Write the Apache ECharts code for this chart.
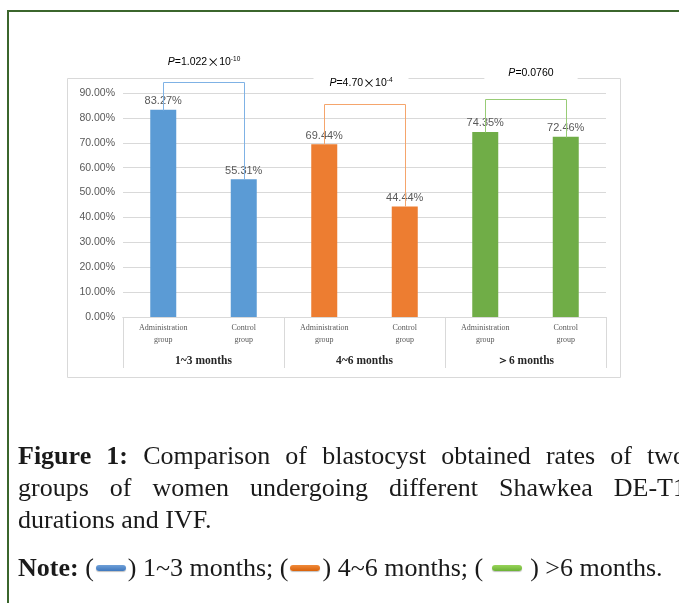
<!DOCTYPE html>
<html>
<head>
<meta charset="utf-8">
<script src="https://cdn.jsdelivr.net/npm/echarts@6/dist/echarts.min.js"></script>
<style>
  html, body { margin:0; padding:0; width:679px; height:603px; overflow:hidden; background:#fff; }
  #chart { position:absolute; left:0; top:0; width:679px; height:603px; }
  .frameTop { position:absolute; left:7px; top:10px; width:700px; height:2px; background:#3b662c; }
  .frameLeft { position:absolute; left:7px; top:10px; width:2px; height:600px; background:#3b662c; }
  .cap { position:absolute; left:18px; width:668px; font-family:"Liberation Serif", serif; font-size:26px; line-height:32px; color:#1a1a1a; white-space:nowrap; }
  .just { text-align:justify; text-align-last:justify; white-space:normal; }
  .icon { display:inline-block; width:30px; height:6px; border-radius:3px; vertical-align:middle; margin:0 2px; position:relative; top:-2px; box-shadow:0 1px 1px rgba(0,0,0,0.25); }
</style>
</head>
<body>
<div id="chart"></div>
<div class="frameTop"></div>
<div class="frameLeft"></div>
<div class="cap just" style="top:440px;"><b>Figure 1:</b> Comparison of blastocyst obtained rates of two</div>
<div class="cap just" style="top:472px;">groups of women undergoing different Shawkea DE-T1</div>
<div class="cap" style="top:504px;">durations and IVF.</div>
<div class="cap" style="top:552px;"><b>Note:</b> (<span class="icon" style="background:linear-gradient(#6fa0d8,#3f78be);"></span>) 1~3 months; (<span class="icon" style="background:linear-gradient(#f08a3a,#d9620a);"></span>) 4~6 months; ( <span class="icon" style="background:linear-gradient(#98d45a,#6cb235);"></span> ) &gt;6 months.</div>
<script>
// ---- data ----
const categories = ['Administration\ngroup', 'Control\ngroup', 'Administration\ngroup', 'Control\ngroup', 'Administration\ngroup', 'Control\ngroup'];
const groups = ['1~3 months', '4~6 months', '＞6 months'];
const values = [83.27, 55.31, 69.44, 44.44, 74.35, 72.46];
const groupOfBar = [0, 0, 1, 1, 2, 2];
const yTicks = [0, 10, 20, 30, 40, 50, 60, 70, 80, 90];
const bracketPairs = [[0, 1], [2, 3], [4, 5]];
const pMantissa = ['1.022', '4.70', '0.0760'];
const pExponent = ['-10', '-4', ''];

// ---- styles ----
const groupColors = ['#5b9bd5', '#ed7d31', '#70ad47'];
const bracketColors = ['#7fb2e5', '#f5a56c', '#98cc76'];
const bracketTops = [94.4, 85.4, 87.4];
const pOffset = [[0, 20], [-4, 21], [5, 26]];
const pPadding = [[1, 2], [2, 16], [2, 24]];

const crisp = p => [Math.round(p[0]) + 0.5, Math.round(p[1]) + 0.5];

const chart = echarts.init(document.getElementById('chart'));
const option = {
  animation: false,
  backgroundColor: 'transparent',
  graphic: [{
    type: 'rect', z: 0,
    shape: { x: 67.5, y: 78.5, width: 553, height: 299 },
    style: { fill: 'none', stroke: '#d9d9d9', lineWidth: 1 }
  }],
  grid: { left: 123, right: 73, top: 93, bottom: 286 },
  xAxis: [{
    type: 'category', data: categories, position: 'bottom',
    axisLine: { lineStyle: { color: '#d9d9d9' } },
    axisTick: { show: false },
    axisLabel: { interval: 0, fontFamily: 'Liberation Serif', fontSize: 8, color: '#595959', lineHeight: 12, margin: 5 }
  }, {
    type: 'category', data: groups, position: 'bottom',
    axisLine: { lineStyle: { color: '#d9d9d9' } },
    axisTick: { show: true, length: 51, lineStyle: { color: '#d9d9d9' } },
    axisLabel: { interval: 0, fontFamily: 'Liberation Serif', fontWeight: 'bold', fontSize: 11.5, color: '#262626', margin: 38 }
  }],
  yAxis: {
    type: 'value', min: yTicks[0], max: yTicks[yTicks.length - 1], interval: 10,
    axisLine: { show: false }, axisTick: { show: false },
    splitLine: { lineStyle: { color: '#d9d9d9' } },
    axisLabel: { formatter: v => v.toFixed(2) + '%', fontFamily: 'Liberation Sans', fontSize: 10.5, color: '#595959', margin: 8 }
  },
  series: [{
    type: 'bar', xAxisIndex: 0, barWidth: 26, z: 2,
    data: values.map((v, i) => ({ value: v, itemStyle: { color: groupColors[groupOfBar[i]] } })),
    label: { show: true, position: 'top', distance: 3, formatter: p => p.value.toFixed(2) + '%', fontFamily: 'Liberation Sans', fontSize: 11, color: '#595959' }
  }, {
    type: 'custom', xAxisIndex: 0, z: 3, clip: false,
    data: bracketPairs.map((p, i) => [p[0], p[1], i]),
    encode: { x: 0 },
    renderItem: function (params, api) {
      const a = api.value(0), b = api.value(1), i = api.value(2);
      const pA = crisp(api.coord([a, values[a]])), pB = crisp(api.coord([b, values[b]]));
      const tA = crisp(api.coord([a, bracketTops[i]])), tB = crisp(api.coord([b, bracketTops[i]]));
      const txt = pExponent[i] ? '{i|P}{n|=' + pMantissa[i] + '}{x|×}{n|10}{s|' + pExponent[i] + '}' : '{i|P}{n|=' + pMantissa[i] + '}';
      return {
        type: 'group',
        children: [{
          type: 'polyline',
          shape: { points: [pA, tA, tB, pB] },
          style: { stroke: bracketColors[i], fill: null, lineWidth: 1 }
        }, {
          type: 'text', z2: 10,
          x: (tA[0] + tB[0]) / 2 + pOffset[i][0], y: tA[1] - pOffset[i][1],
          style: {
            text: txt, align: 'center', verticalAlign: 'middle',
            backgroundColor: '#fff', padding: pPadding[i],
            rich: {
              i: { fontFamily: 'Liberation Sans', fontStyle: 'italic', fontSize: 10.5, color: '#404040', lineHeight: 13 },
              n: { fontFamily: 'Liberation Sans', fontSize: 10.5, color: '#404040', lineHeight: 13 },
              x: { fontFamily: 'Noto Sans CJK SC', fontSize: 12, color: '#404040', lineHeight: 13 },
              s: { fontFamily: 'Liberation Sans', fontSize: 6.5, color: '#404040', lineHeight: 13, verticalAlign: 'top', padding: [0, 0, 5, 0] }
            }
          }
        }]
      };
    }
  }]
};
chart.setOption(option);
</script>
</body>
</html>
